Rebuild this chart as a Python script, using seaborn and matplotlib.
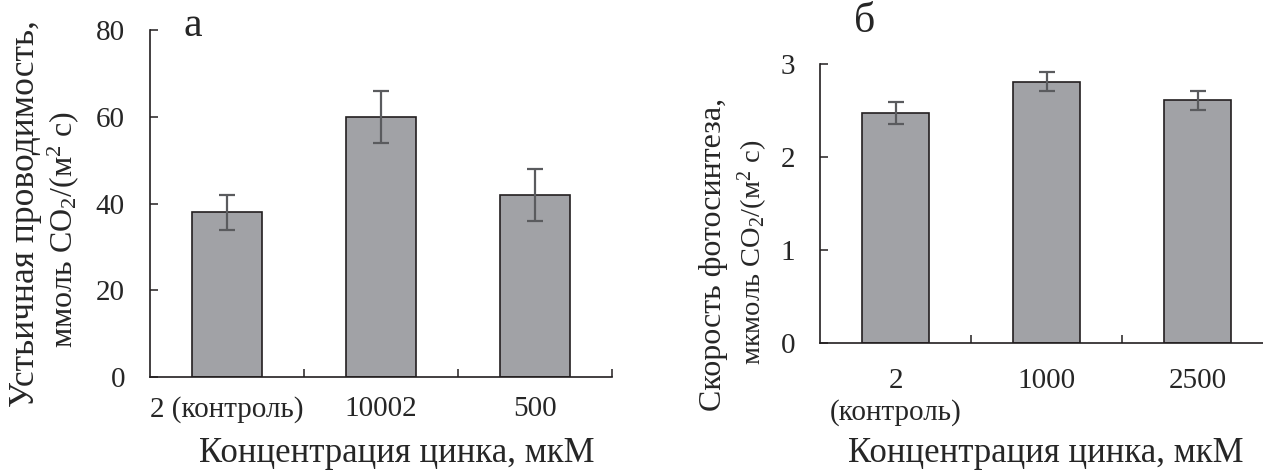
import numpy as np
import matplotlib
matplotlib.use("Agg")
import matplotlib.pyplot as plt
import seaborn as sns
from matplotlib.ticker import FixedLocator

# данные панели а - устьичная проводимость
conc_a = ["2 (контроль)", "10002", "500"]
cond_mean = [38, 60, 42]
cond_err = [4, 6, 6]

# данные панели б - скорость фотосинтеза
conc_b = ["2\n(контроль)", "1000", "2500"]
photo_mean = [2.47, 2.81, 2.61]
photo_err = [0.12, 0.10, 0.10]

sns.set_style("white")
plt.rcParams['font.family'] = ['Liberation Serif', 'DejaVu Serif']
plt.rcParams['mathtext.fontset'] = 'custom'
plt.rcParams['mathtext.rm'] = 'Liberation Serif'
plt.rcParams['mathtext.it'] = 'Liberation Serif:italic'

BAR = '#a1a2a6'
EDGE = '#231f20'
ERR = '#5a5b5e'

W, H = 1263, 471
fig = plt.figure(figsize=(W / 100, H / 100), dpi=100)
ax1 = fig.add_axes([150 / W, 1 - 377 / H, 462 / W, 347 / H])
ax2 = fig.add_axes([820 / W, 1 - 343 / H, 453 / W, 279 / H])


def draw_panel(ax, cats, vals, errs, ymax, yticks, fs_tick):
    sns.barplot(x=cats, y=vals, ax=ax, color=BAR, width=0.45,
                edgecolor=EDGE, linewidth=1.2, saturation=1)
    ax.errorbar(x=np.arange(len(cats)), y=vals, yerr=errs, fmt='none',
                ecolor=ERR, elinewidth=1.6, capsize=5.5, capthick=1.6, zorder=5)
    ax.set_xlim(-0.5, len(cats) - 0.5)
    ax.set_ylim(0, ymax)
    ax.set_yticks(yticks)
    ax.xaxis.set_minor_locator(FixedLocator(np.arange(len(cats)) + 0.5))
    ax.tick_params(axis='x', which='major', length=0, pad=14, labelsize=fs_tick)
    ax.tick_params(axis='x', which='minor', direction='in', length=6,
                   width=1.1, color=EDGE, bottom=True)
    ax.tick_params(axis='y', direction='in', length=6, width=1.1, color=EDGE,
                   pad=18, labelsize=fs_tick, left=True)
    for s in ['top', 'right']:
        ax.spines[s].set_visible(False)
    for s in ['left', 'bottom']:
        ax.spines[s].set_color(EDGE)
        ax.spines[s].set_linewidth(1.2)
    ax.set_xlabel('')
    ax.set_ylabel('')


draw_panel(ax1, conc_a, cond_mean, cond_err, 80, [0, 20, 40, 60, 80], 21)
draw_panel(ax2, conc_b, photo_mean, photo_err, 3, [0, 1, 2, 3], 21)
ax2.tick_params(axis='x', which='major', pad=18)
for lab in ax2.get_xticklabels():
    lab.set_linespacing(1.25)

# подписи осей
fig.text(397 / W, 1 - 453 / H, 'Концентрация цинка, мкМ', ha='center', va='center', fontsize=25)
fig.text(1046 / W, 1 - 453 / H, 'Концентрация цинка, мкМ', ha='center', va='center', fontsize=25)

fig.text(26 / W, 1 - 214 / H, 'Устьичная проводимость,', rotation=90,
         ha='center', va='center', fontsize=25.5)
fig.text(63 / W, 1 - 229 / H, 'ммоль CO$_2$/(м$^2$ с)', rotation=90,
         ha='center', va='center', fontsize=23)
fig.text(714 / W, 1 - 254 / H, 'Скорость фотосинтеза,', rotation=90,
         ha='center', va='center', fontsize=23)
fig.text(753 / W, 1 - 252 / H, 'мкмоль CO$_2$/(м$^2$ с)', rotation=90,
         ha='center', va='center', fontsize=20.5)

# буквы панелей
fig.text(193 / W, 1 - 26 / H, 'а', ha='center', va='center', fontsize=30)
fig.text(865 / W, 1 - 22 / H, 'б', ha='center', va='center', fontsize=30)

fig.savefig('out.png', dpi=100)
